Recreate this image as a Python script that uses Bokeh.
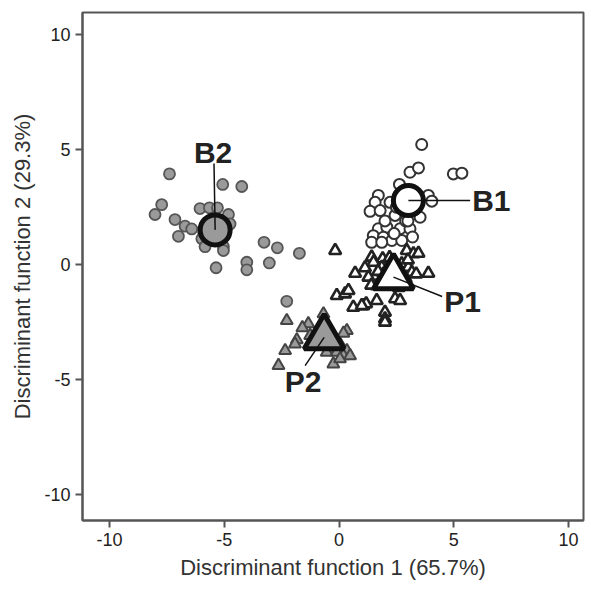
from bokeh.plotting import figure
from bokeh.models import Range1d, FixedTicker
from bokeh.core.properties import value
from bokeh.embed import file_html
from bokeh.resources import INLINE

# Group B2 (grey circles)
b2_x = [-7.39, -5.07, -4.24, -7.73, -8.02, -6.06, -5.65, -5.30, -7.15, -6.71, -6.42, -4.82, -4.75,
        -7.00, -5.98, -5.84, -5.04, -5.04, -5.36, -3.27, -2.69, -1.73, -4.02, -4.02, -3.04, -2.28,
        -5.6, -5.9, -5.1]
b2_y = [3.95, 3.49, 3.40, 2.61, 2.18, 2.44, 2.47, 2.47, 1.96, 1.67, 1.55, 2.18, 1.77,
        1.23, 1.12, 0.78, 0.78, 0.61, -0.14, 0.97, 0.73, 0.49, 0.10, -0.23, 0.07, -1.60,
        1.8, 1.4, 1.3]
# Group B1 (open circles)
b1_x = [3.60, 3.09, 3.46, 4.98, 5.35, 2.63, 1.71, 1.57, 3.89, 4.04, 1.35, 1.79, 2.22, 2.44, 3.53,
        1.71, 2.08, 2.66, 3.09, 1.49, 1.93, 2.30, 2.73, 1.42, 1.86, 2.7, 3.3, 2.5, 2.9, 3.2,
        2.0, 3.0, 2.4]
b1_y = [5.23, 4.02, 4.21, 3.95, 3.98, 3.49, 3.01, 2.71, 3.01, 2.76, 2.32, 2.35, 2.71, 2.14, 2.06,
        1.56, 1.63, 1.56, 1.56, 1.26, 1.19, 1.05, 1.05, 0.97, 0.97, 3.0, 2.4, 2.5, 1.9, 1.2,
        1.9, 1.9, 1.35]
# Group P1 (open triangles)
p1_x = [-0.17, 1.42, 1.90, 2.95, 3.24, 3.46, 0.70, 1.13, 1.28, 1.86, 1.93, 2.73, 3.02, 3.17, 3.36,
        3.89, 1.64, 2.73, -0.10, 0.26, 0.41, 0.62, 1.06, 1.64, 2.44, 2.66, 2.00, 2.00, 2.00,
        1.18, 2.3, 2.1, 2.6, 1.5, 0.99, 1.7, 2.9, 2.2, 1.4, 3.0]
p1_y = [0.61, 0.32, 0.25, 0.61, 0.47, 0.49, -0.38, -0.14, -0.55, -0.12, -0.41, 0.03, -0.12, -0.34, -0.41,
        -0.38, -0.92, -0.84, -1.35, -1.28, -1.13, -1.86, -1.79, -1.57, -1.49, -1.57, -2.08, -2.37, -2.51,
        -1.71, -0.2, -0.7, -1.0, 0.1, -1.79, -0.3, -0.6, 0.3, -0.9, 0.2]
# Group P2 (grey triangles)
p2_x = [-2.28, -1.34, -0.68, 0.34, -1.84, -1.92, -1.26, -2.35, -2.64, -0.32, 0.04, 0.34, -0.54,
        -0.10, 0.19, 0.48, -0.25, 0.04, -1.6, -0.9, -0.4, 0.19, -0.8]
p2_y = [-2.44, -2.58, -2.15, -2.88, -3.28, -3.46, -3.09, -3.75, -4.40, -3.60, -3.46, -3.75, -3.82,
        -3.82, -3.97, -3.97, -4.33, -4.11, -2.75, -2.9, -3.2, -2.99, -3.5]

# Group centroids
cent_names = ["B1", "B2", "P1", "P2"]
cent_x = [3.02, -5.40, 2.37, -0.65]
cent_y = [2.79, 1.51, -0.55, -3.17]

x_ticks = [-10, -5, 0, 5, 10]
y_ticks = [-10, -5, 0, 5, 10]

p = figure(width=591, height=592, output_backend="svg", toolbar_location=None,
           x_range=Range1d(-11.18, 10.65), y_range=Range1d(-11.15, 10.98))
p.min_border_left = 82
p.min_border_right = 8
p.min_border_top = 12
p.min_border_bottom = 72
p.background_fill_color = "white"
p.border_fill_color = "white"
p.xgrid.visible = False
p.ygrid.visible = False
p.outline_line_color = "#555555"
p.outline_line_width = 2

for ax, lab, ticks in ((p.xaxis[0], "Discriminant function 1 (65.7%)", x_ticks),
                       (p.yaxis[0], "Discriminant function 2 (29.3%)", y_ticks)):
    ax.ticker = FixedTicker(ticks=ticks)
    ax.major_label_overrides = {t: str(t) for t in ticks}
    ax.axis_label = lab
    ax.axis_label_text_font = "Liberation Sans"
    ax.axis_label_text_font_style = "normal"
    ax.axis_label_text_font_size = "22px"
    ax.axis_label_text_color = "#333333"
    ax.major_label_text_font = "Liberation Sans"
    ax.major_label_text_font_size = "18px"
    ax.major_label_text_color = "#222222"
    ax.axis_line_color = "#555555"
    ax.axis_line_width = 2
    ax.major_tick_line_color = "#555555"
    ax.major_tick_line_width = 2
    ax.major_tick_in = 0
    ax.major_tick_out = 7
    ax.minor_tick_line_color = None
    ax.major_label_standoff = 5
    ax.axis_label_standoff = 6

# small points
p.scatter(b2_x, b2_y, marker="circle", size=11, fill_color="#9a9a9a", line_color="#555555", line_width=1.8)
p.scatter(b1_x, b1_y, marker="circle", size=11, fill_color="white", line_color="#333333", line_width=2)
p.scatter(p2_x, p2_y, marker="triangle", size=12, fill_color="#9a9a9a", line_color="#444444", line_width=2)
p.scatter(p1_x, p1_y, marker="triangle", size=12, fill_color="white", line_color="#222222", line_width=2.6)

# centroids
p.scatter([cent_x[0]], [cent_y[0]], marker="circle", size=30, fill_color="white", line_color="#111111", line_width=5)
p.scatter([cent_x[1]], [cent_y[1]], marker="circle", size=30, fill_color="#9a9a9a", line_color="#111111", line_width=5)
p.scatter([cent_x[2]], [cent_y[2]], marker="triangle", size=40, fill_color="white", line_color="#111111", line_width=5)
p.scatter([cent_x[3]], [cent_y[3]], marker="triangle", size=40, fill_color="#9a9a9a", line_color="#111111", line_width=5)

# leader lines (label end points)
lab_x = [5.71, -5.45, 4.49, -1.48]
lab_y = [2.79, 4.40, -1.39, -4.40]
for i in range(4):
    p.line([cent_x[i], lab_x[i]], [cent_y[i], lab_y[i]], line_color="#111111", line_width=1.5)

# labels
txt_x = [5.80, -5.49, 4.58, -1.57]
txt_y = [2.79, 4.88, -1.61, -5.10]
txt_align = ["left", "center", "left", "center"]
for i in range(4):
    p.text([txt_x[i]], [txt_y[i]], text=[cent_names[i]], text_font=value("Liberation Sans"),
           text_font_style="bold", text_font_size="30px", text_color="#222222",
           text_align=txt_align[i], text_baseline="middle")

open("out.html", "w").write(file_html(p, INLINE))
